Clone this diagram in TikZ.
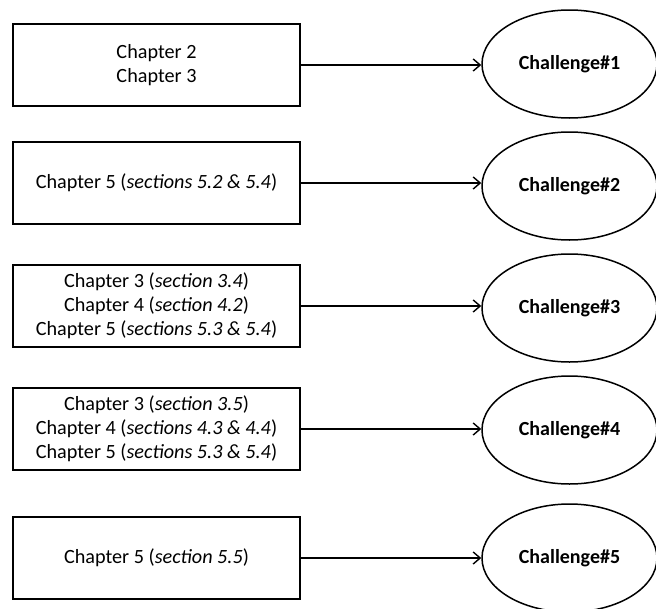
\documentclass[tikz,border=0pt]{standalone}
\usepackage{fontspec}
\setmainfont{Carlito}
\usetikzlibrary{arrows.meta,shapes.geometric}
\begin{document}
\begin{tikzpicture}[x=1pt,y=-1pt,
  chapbox/.style={draw,line width=1.7pt,minimum width=287pt,minimum height=82pt,
    align=center,inner sep=0pt,font=\fontsize{20.2}{24}\selectfont},
  chall/.style={draw,ellipse,line width=1.5pt,minimum width=175pt,minimum height=108pt,
    inner sep=0pt,font=\fontsize{20}{24}\selectfont\bfseries},
  link/.style={line width=1.5pt,-{Straight Barb[length=7pt,width=12pt,line width=1.4pt]}}]
\useasboundingbox (0,0) rectangle (656,608);
% reading boxes
\node[chapbox] (b1) at (156.5,65) {Chapter 2\\Chapter 3};
\node[chapbox] (b2) at (156.5,183) {Chapter 5 (\textit{sections 5.2 \& 5.4})};
\node[chapbox] (b3) at (156.5,306) {Chapter 3 (\textit{section 3.4})\\Chapter 4 (\textit{section 4.2})\\Chapter 5 (\textit{sections 5.3 \& 5.4})};
\node[chapbox] (b4) at (156.5,429) {Chapter 3 (\textit{section 3.5})\\Chapter 4 (\textit{sections 4.3 \& 4.4})\\Chapter 5 (\textit{sections 5.3 \& 5.4})};
\node[chapbox] (b5) at (156.5,558) {Chapter 5 (\textit{section 5.5})};
% challenges
\node[chall] (c1) at (569.5,64) {Challenge\#1};
\node[chall] (c2) at (569.5,186) {Challenge\#2};
\node[chall] (c3) at (569.5,308) {Challenge\#3};
\node[chall] (c4) at (569.5,430) {Challenge\#4};
\node[chall] (c5) at (569.5,558) {Challenge\#5};
% links
\foreach \i in {1,...,5}{
  \draw[link] (b\i.east) -- (b\i.east -| c\i.west);
}
\end{tikzpicture}
\end{document}
